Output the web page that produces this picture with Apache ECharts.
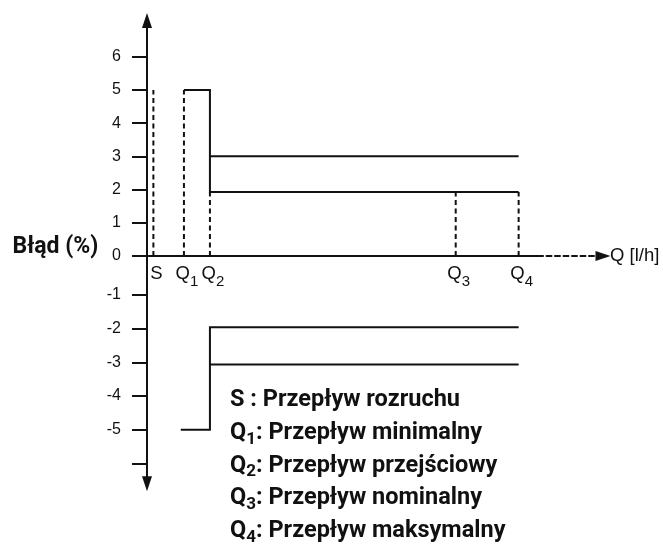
<!DOCTYPE html>
<html>
<head>
<meta charset="utf-8">
<script src="https://cdn.jsdelivr.net/npm/echarts@6/dist/echarts.min.js"></script>
<style>
html,body{margin:0;padding:0;background:#fff;}
#chart{width:663px;height:547px;}
</style>
</head>
<body>
<div id="chart"></div>
<script>
// ---- data ----
const flowMarks = ['S', 'Q1', 'Q2', 'Q3', 'Q4'];
const flowPos = [1.4, 8.1, 13.8, 67.7, 81.5];      // position of each flow mark on the Q axis
const startLevel = 5;                              // height of the S dashed marker
const lowFlowLimit = [5, -5];                      // error limit between Q1 and Q2
const highFlowInner = [1.93, -1.96];               // inner limits from Q2 to Q4
const highFlowOuter = [3, -3.06];                  // outer limits from Q2 to Q4
const lowerStartPos = 7.4;                         // start of the -5 limit
const axisSolidEnd = 86.9;                         // end of the solid part of the Q axis
const yTicksPos = [0, 1, 2, 3, 4, 5, 6];
const yTicksNeg = [-1, -2, -3, -4, -5, -6];
const yLabelsNeg = [-1, -2, -3, -4, -5];
const yName = 'Błąd (%)';
const xName = 'Q [l/h]';
const legendItems = [
  ['S', '', ' : Przepływ rozruchu'],
  ['Q', '1', ': Przepływ minimalny'],
  ['Q', '2', ': Przepływ przejściowy'],
  ['Q', '3', ': Przepływ nominalny'],
  ['Q', '4', ': Przepływ maksymalny']
];

// ---- styles ----
const INK = '#111';
const LW = 2;
const DASH = [5, 3.5];
const ARIAL = '"Liberation Sans", Arial, sans-serif';
const BOLD = 'Roboto, "Noto Sans", sans-serif';

const iS = n => flowPos[flowMarks.indexOf(n)];

function lineSeries(grid, data, dashed) {
  return {
    type: 'line', xAxisIndex: grid, yAxisIndex: grid, data: data,
    symbol: 'none', showSymbol: false, clip: false, silent: true, animation: false,
    lineStyle: { color: INK, width: LW, type: dashed ? DASH : 'solid', join: 'miter' }, z: 3
  };
}

const series = [];
// solid part of the Q axis (over the dashed axis line)
series.push(lineSeries(0, [[0, 0], [axisSolidEnd, 0]], false));
// dashed markers
series.push(lineSeries(0, [[iS('S'), 0], [iS('S'), startLevel]], true));
series.push(lineSeries(0, [[iS('Q1'), 0], [iS('Q1'), lowFlowLimit[0]]], true));
['Q2', 'Q3', 'Q4'].forEach(n => series.push(lineSeries(0, [[iS(n), 0], [iS(n), highFlowInner[0]]], true)));
// upper limits
series.push(lineSeries(0, [[iS('Q1'), lowFlowLimit[0]], [iS('Q2'), lowFlowLimit[0]], [iS('Q2'), highFlowInner[0]], [iS('Q4'), highFlowInner[0]]], false));
series.push(lineSeries(0, [[iS('Q2'), highFlowOuter[0]], [iS('Q4'), highFlowOuter[0]]], false));
// lower limits
series.push(lineSeries(1, [[lowerStartPos, lowFlowLimit[1]], [iS('Q2'), lowFlowLimit[1]], [iS('Q2'), highFlowInner[1]], [iS('Q4'), highFlowInner[1]]], false));
series.push(lineSeries(1, [[iS('Q2'), highFlowOuter[1]], [iS('Q4'), highFlowOuter[1]]], false));

function xLabel(v) {
  let best = 0;
  flowPos.forEach((p, i) => { if (Math.abs(p - v) < Math.abs(flowPos[best] - v)) best = i; });
  const n = flowMarks[best];
  return n.length > 1 ? '{q|' + n[0] + '}{s|' + n.slice(1) + '}' : '{q|' + n + '}';
}

const yAxisCommon = {
  type: 'value',
  splitLine: { show: false },
  axisTick: { show: true, length: 15, lineStyle: { color: INK, width: LW } },
  axisLabel: { margin: 26, fontSize: 16, fontFamily: ARIAL, color: INK }
};

const graphic = [{
  type: 'text', x: 12.5, y: 246.8,
  style: { text: yName, font: 'bold 23px ' + BOLD, fill: INK, verticalAlign: 'middle', align: 'left' }
}];
legendItems.forEach((it, i) => {
  const t = it[1] ? '{b|' + it[0] + '}{s|' + it[1] + '}{b|' + it[2] + '}' : '{b|' + it[0] + it[2] + '}';
  graphic.push({
    type: 'text', x: 230, y: 400.5 + 32.6 * i,
    style: {
      text: t, verticalAlign: 'middle', align: 'left',
      rich: {
        b: { fontSize: 23.5, fontWeight: 'bold', fontFamily: BOLD, fill: INK, lineHeight: 28 },
        s: { fontSize: 17, fontWeight: 'bold', fontFamily: BOLD, fill: INK, lineHeight: 28, padding: [13, 0, 0, 0] }
      }
    }
  });
});

const option = {
  animation: false,
  backgroundColor: '#fff',
  grid: [
    { left: 147, top: 20.5, width: 456, height: 235.5 },
    { left: 147, top: 256, width: 456, height: 227.8 }
  ],
  xAxis: [
    {
      gridIndex: 0, type: 'value', min: 0, max: 100,
      axisLine: { show: true, onZero: false, symbol: ['none', 'triangle'], symbolSize: [10, 15],
        lineStyle: { color: INK, width: LW, type: DASH } },
      axisTick: { show: false }, splitLine: { show: false },
      axisLabel: {
        customValues: flowPos, formatter: xLabel, margin: 6, padding: [0, 0, 0, 6],
        rich: {
          q: { fontSize: 18.5, fontFamily: ARIAL, color: INK, lineHeight: 24 },
          s: { fontSize: 15, fontFamily: ARIAL, color: INK, lineHeight: 24, padding: [16, 0, 0, 0] }
        }
      },
      name: xName, nameLocation: 'end', nameGap: 7,
      nameTextStyle: { fontSize: 18.5, fontFamily: ARIAL, color: INK, padding: [0, 0, 24, 0], align: 'left', verticalAlign: 'middle' }
    },
    { gridIndex: 1, type: 'value', min: 0, max: 100, show: false }
  ],
  yAxis: [
    Object.assign({}, yAxisCommon, {
      gridIndex: 0, min: 0, max: 7.09,
      axisLine: { show: true, onZero: false, symbol: ['none', 'triangle'], symbolSize: [10, 15], lineStyle: { color: INK, width: LW } },
      axisTick: Object.assign({}, yAxisCommon.axisTick, { customValues: yTicksPos }),
      axisLabel: Object.assign({}, yAxisCommon.axisLabel, { customValues: yTicksPos })
    }),
    Object.assign({}, yAxisCommon, {
      gridIndex: 1, min: -6.605, max: 0.157,
      axisLine: { show: true, onZero: false, symbol: ['triangle', 'none'], symbolSize: [10, 15], lineStyle: { color: INK, width: LW } },
      axisTick: Object.assign({}, yAxisCommon.axisTick, { customValues: yTicksNeg }),
      axisLabel: Object.assign({}, yAxisCommon.axisLabel, { customValues: yLabelsNeg })
    })
  ],
  graphic: graphic,
  series: series
};

const chart = echarts.init(document.getElementById('chart'), null, { renderer: 'canvas' });
chart.setOption(option);
</script>
</body>
</html>
